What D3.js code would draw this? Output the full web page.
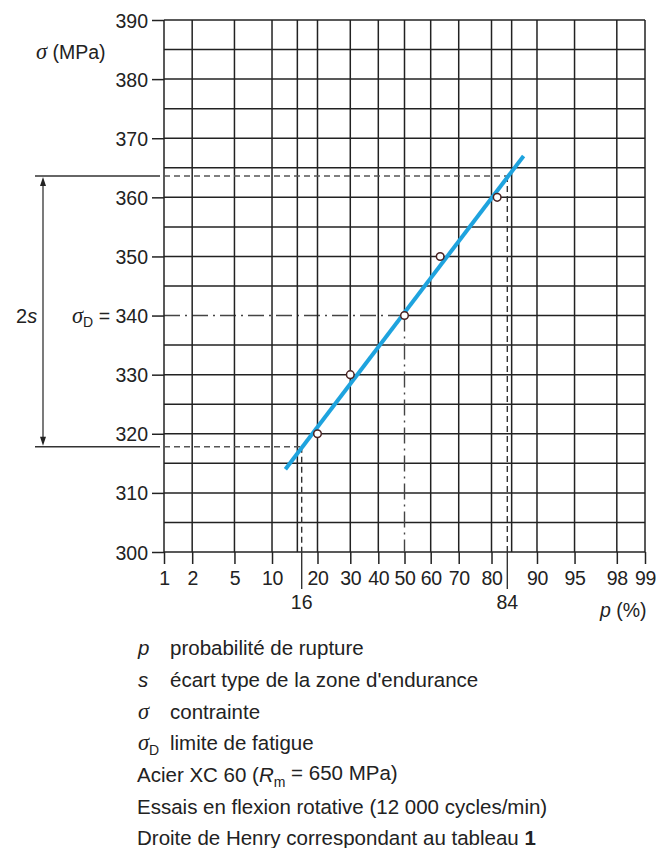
<!DOCTYPE html>
<html><head><meta charset="utf-8">
<script src="https://cdn.jsdelivr.net/npm/d3@7"></script>
<style>
html,body{margin:0;padding:0;background:#fff;}
text{font-family:"Liberation Sans",Arial,sans-serif;fill:#222;}
.sym{font-family:"Liberation Serif","Times New Roman",serif;font-style:italic;}
.it{font-style:italic;}
</style></head>
<body>
<svg id="chart" width="656" height="848"></svg>
<script>
// ---- data ----
const sigmaTicks = [300, 310, 320, 330, 340, 350, 360, 370, 380, 390];
const sigmaMinor = [305, 315, 325, 335, 345, 355, 365, 375, 385];
const pTicks = [1, 2, 5, 10, 20, 30, 40, 50, 60, 70, 80, 90, 95, 98, 99];
const pExtraGrid = [15, 85];
const pointP = [20, 30, 50, 63.5, 81.5];
const pointSigma = [320, 330, 340, 350, 360];
const fitMean = 340.5, fitS = 23;       // Henry line
const lineSigma = [314, 367];           // extent of drawn line
const sigmaD = 340, pD = 50;
const p16 = 16, p84 = 84;
const sigma16 = 317.8, sigma84 = 363.6;
const legendSym = ["p", "s", "σ", "σD"];
const legendText = ["probabilité de rupture", "écart type de la zone d'endurance", "contrainte", "limite de fatigue"];
const notes = ["Acier XC 60 (", "Essais en flexion rotative (12 000 cycles/min)", "Droite de Henry correspondant au tableau "];

// ---- inverse normal CDF (Acklam) ----
function probit(p){
  const a=[-39.69683028665376,220.9460984245205,-275.9285104469687,138.3577518672690,-30.66479806614716,2.506628277459239];
  const b=[-54.47609879822406,161.5858368580409,-155.6989798598866,66.80131188771972,-13.28068155288572];
  const c=[-7.784894002430293e-03,-3.223964580411365e-01,-2.400758277161838,-2.549732539343734,4.374664141464968,2.938163982698783];
  const d=[7.784695709041462e-03,3.224671290700398e-01,2.445134137142996,3.754408661907416];
  const pl=0.02425, ph=1-pl; let q,r;
  if(p<pl){q=Math.sqrt(-2*Math.log(p));return (((((c[0]*q+c[1])*q+c[2])*q+c[3])*q+c[4])*q+c[5])/((((d[0]*q+d[1])*q+d[2])*q+d[3])*q+1);}
  if(p<=ph){q=p-0.5;r=q*q;return (((((a[0]*r+a[1])*r+a[2])*r+a[3])*r+a[4])*r+a[5])*q/(((((b[0]*r+b[1])*r+b[2])*r+b[3])*r+b[4])*r+1);}
  q=Math.sqrt(-2*Math.log(1-p));return -(((((c[0]*q+c[1])*q+c[2])*q+c[3])*q+c[4])*q+c[5])/((((d[0]*q+d[1])*q+d[2])*q+d[3])*q+1);
}

const svg = d3.select("#chart");
const X0 = 164, X1 = 645, Y0 = 552, Y1 = 20;
const zScale = d3.scaleLinear().domain([probit(0.01), probit(0.99)]).range([X0, X1]);
const xp = p => zScale(probit(p / 100));
const y = d3.scaleLinear().domain([300, 390]).range([Y0, Y1]);
const FS = 19.5, LFS = 20.5;
const gridColor = "#222";
const GW = 1.5;

const g = svg.append("g");
// horizontal grid
const hAll = sigmaTicks.concat(sigmaMinor);
hAll.forEach(s => {
  if (s === sigmaD) {
    g.append("line").attr("x1", xp(pD)).attr("x2", X1).attr("y1", y(s)).attr("y2", y(s))
      .attr("stroke", gridColor).attr("stroke-width", GW);
    g.append("line").attr("x1", X0).attr("x2", xp(pD)).attr("y1", y(s)).attr("y2", y(s))
      .attr("stroke", "#444").attr("stroke-width", 1.4).attr("stroke-dasharray", "16,5,2,5");
  } else {
    g.append("line").attr("x1", X0).attr("x2", X1).attr("y1", y(s)).attr("y2", y(s))
      .attr("stroke", gridColor).attr("stroke-width", GW);
  }
});
// vertical grid
pTicks.concat(pExtraGrid).forEach(p => {
  if (p === pD) {
    g.append("line").attr("x1", xp(p)).attr("x2", xp(p)).attr("y1", Y1).attr("y2", y(sigmaD))
      .attr("stroke", gridColor).attr("stroke-width", GW);
    g.append("line").attr("x1", xp(p)).attr("x2", xp(p)).attr("y1", y(sigmaD)).attr("y2", Y0)
      .attr("stroke", "#444").attr("stroke-width", 1.4).attr("stroke-dasharray", "16,5,2,5");
  } else {
    g.append("line").attr("x1", xp(p)).attr("x2", xp(p)).attr("y1", Y1).attr("y2", Y0)
      .attr("stroke", gridColor).attr("stroke-width", GW);
  }
});

// axes
const yAxis = d3.axisLeft(y).tickValues(sigmaTicks).tickSize(12).tickPadding(4)
  .tickFormat(d => d === sigmaD ? "" : d);
const ya = svg.append("g").attr("transform", `translate(${X0},0)`).call(yAxis);
ya.select(".domain").remove();
ya.selectAll(".tick line").attr("stroke", gridColor).attr("stroke-width", GW);
ya.selectAll(".tick text").attr("font-size", FS).attr("fill", "#222")
  .style("font-family", '"Liberation Sans",Arial,sans-serif').attr("dy", "0.36em");

const xAxis = d3.axisBottom(zScale).tickValues(pTicks.map(p => probit(p / 100))).tickSize(12).tickPadding(7)
  .tickFormat((d, i) => pTicks[i]);
const xa = svg.append("g").attr("transform", `translate(0,${Y0})`).call(xAxis);
xa.select(".domain").remove();
xa.selectAll(".tick line").attr("stroke", gridColor).attr("stroke-width", GW);
xa.selectAll(".tick text").attr("font-size", FS).attr("fill", "#222")
  .style("font-family", '"Liberation Sans",Arial,sans-serif').attr("letter-spacing", "-0.3");

// 2s construction lines
const dashC = "#555";
[[sigma84, p84], [sigma16, p16]].forEach(([s, p]) => {
  svg.append("line").attr("x1", 35).attr("x2", 160).attr("y1", y(s)).attr("y2", y(s))
    .attr("stroke", "#333").attr("stroke-width", 1.5);
  svg.append("line").attr("x1", X0).attr("x2", xp(p)).attr("y1", y(s)).attr("y2", y(s))
    .attr("stroke", dashC).attr("stroke-width", 1.6).attr("stroke-dasharray", "6,4");
  svg.append("line").attr("x1", xp(p)).attr("x2", xp(p)).attr("y1", y(s)).attr("y2", Y0)
    .attr("stroke", "#333").attr("stroke-width", 1.4).attr("stroke-dasharray", "6,4");
  svg.append("line").attr("x1", xp(p)).attr("x2", xp(p)).attr("y1", Y0).attr("y2", Y0 + 37)
    .attr("stroke", "#333").attr("stroke-width", 1.4);
  svg.append("text").attr("x", xp(p)).attr("y", Y0 + 50).attr("dy", "0.36em")
    .attr("text-anchor", "middle").attr("font-size", FS).text(p);
});
// arrow
const ax = 43;
svg.append("line").attr("x1", ax).attr("x2", ax).attr("y1", y(sigma84) + 6).attr("y2", y(sigma16) - 6)
  .attr("stroke", "#333").attr("stroke-width", 1.3);
svg.append("path").attr("d", `M${ax},${y(sigma84) + 1} l-3,9 l6,0 z`).attr("fill", "#222");
svg.append("path").attr("d", `M${ax},${y(sigma16) - 1} l-3,-9 l6,0 z`).attr("fill", "#222");
const t2s = svg.append("text").attr("x", 16).attr("y", y(sigmaD)).attr("dy", "0.36em").attr("font-size", FS + 0.5);
t2s.append("tspan").text("2");
t2s.append("tspan").attr("class", "it").text("s");

// σD label
const tD = svg.append("text").attr("x", 148).attr("y", y(sigmaD)).attr("dy", "0.36em")
  .attr("text-anchor", "end").attr("font-size", FS);
tD.append("tspan").attr("class", "sym").attr("font-size", FS + 3).text("σ");
tD.append("tspan").attr("font-size", 14).attr("dy", "0.3em").text("D");
tD.append("tspan").attr("dy", "-0.2em").text(" = " + sigmaD);

// y title
const tY = svg.append("text").attr("x", 36).attr("y", 52).attr("dy", "0.36em").attr("font-size", FS);
tY.append("tspan").attr("class", "sym").attr("font-size", FS + 3).text("σ");
tY.append("tspan").text(" (MPa)");
// x title
const tX = svg.append("text").attr("x", 600).attr("y", 610).attr("dy", "0.36em").attr("font-size", FS);
tX.append("tspan").attr("class", "it").text("p");
tX.append("tspan").text(" (%)");

// Henry line
const fitLine = lineSigma.map(s => [zScale((s - fitMean) / fitS), y(s)]);
svg.append("path").attr("d", d3.line()(fitLine)).attr("stroke", "#1ea3de").attr("stroke-width", 4)
  .attr("fill", "none").attr("stroke-linecap", "butt");

// points
svg.selectAll("circle.pt").data(pointP).enter().append("circle").attr("class", "pt")
  .attr("cx", d => xp(d)).attr("cy", (d, i) => y(pointSigma[i])).attr("r", 3.8)
  .attr("fill", "#fff").attr("stroke", "#4a2323").attr("stroke-width", 1.5);

// legend
const ly = [648, 680, 712, 743];
legendSym.forEach((s, i) => {
  const t = svg.append("text").attr("x", 138).attr("y", ly[i]).attr("dy", "0.36em").attr("font-size", LFS);
  if (s === "σD") {
    t.append("tspan").attr("class", "sym").attr("font-size", LFS + 2).text("σ");
    t.append("tspan").attr("font-size", 14).attr("dy", "0.3em").text("D");
  } else if (s === "σ") {
    t.append("tspan").attr("class", "sym").attr("font-size", LFS + 2).text(s);
  } else {
    t.append("tspan").attr("class", "it").text(s);
  }
  svg.append("text").attr("x", 170).attr("y", ly[i]).attr("dy", "0.36em").attr("font-size", LFS).text(legendText[i]);
});
const n0 = svg.append("text").attr("x", 137).attr("y", 775).attr("dy", "0.36em").attr("font-size", LFS);
n0.append("tspan").text(notes[0]);
n0.append("tspan").attr("class", "it").text("R");
n0.append("tspan").attr("font-size", 14).attr("dy", "0.3em").text("m");
n0.append("tspan").attr("dy", "-0.3em").text(" = 650 MPa)");
svg.append("text").attr("x", 137).attr("y", 807).attr("dy", "0.36em").attr("font-size", LFS).text(notes[1]);
const n2 = svg.append("text").attr("x", 137).attr("y", 838).attr("dy", "0.36em").attr("font-size", LFS);
n2.append("tspan").text(notes[2]);
n2.append("tspan").attr("font-weight", "bold").text("1");
</script>
</body></html>
